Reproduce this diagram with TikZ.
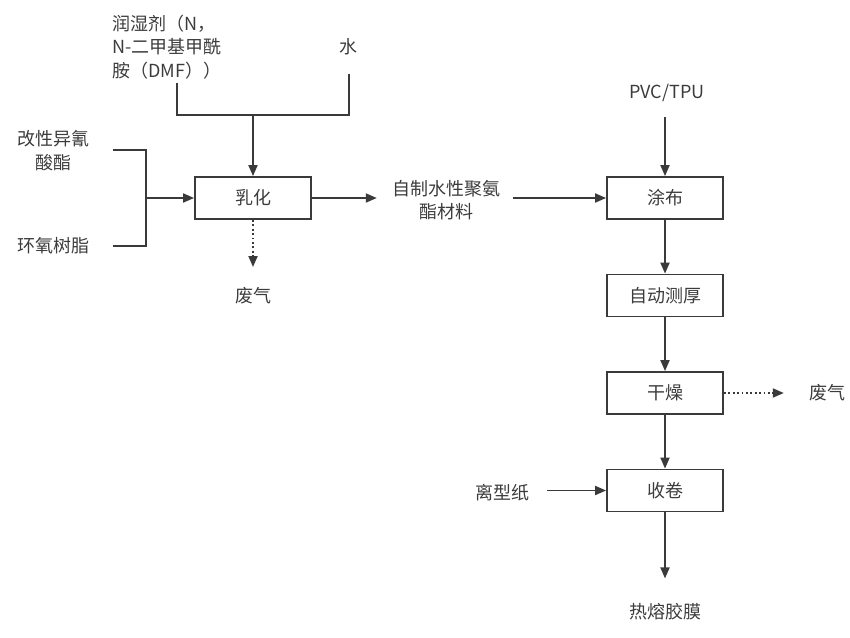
\documentclass[tikz,border=0pt]{standalone}
\usepackage{fontspec}
\setmainfont{Noto Sans CJK SC}
\usetikzlibrary{arrows.meta}
\definecolor{linec}{HTML}{3A3A3A}
\definecolor{txtc}{HTML}{3C3C3C}
\newcommand\fsz{\fontsize{18}{23.5}\selectfont}
\begin{document}
\begin{tikzpicture}[x=1pt,y=-1pt,
  box/.style={draw=linec, line width=1.8pt, minimum width=116pt, minimum height=42pt, inner sep=0pt, text=txtc, font=\fsz},
  lbl/.style={text=txtc, font=\fsz, inner sep=0pt, align=center},
  plain/.style={draw=linec, line width=1.8pt},
  conn/.style={draw=linec, line width=1.8pt, -{Triangle[length=11pt,width=9pt]}},
  dotconn/.style={draw=linec, line width=1.8pt, dash pattern=on 1.8pt off 2.6pt, -{Triangle[length=11pt,width=9pt]}}
]
\useasboundingbox (0,0) rectangle (850,637);
% boxes
\node[box] (emul) at (253,198) {乳化};
\node[box] (coat) at (665,198) {涂布};
\node[box] (thick) at (665,295.5) {自动测厚};
\node[box] (dry) at (665,393) {干燥};
\node[box] (roll) at (665,490.5) {收卷};
% labels
\node[lbl, align=left, anchor=west] (dmf) at (112,47) {润湿剂（N，\\N-二甲基甲酰\\胺（DMF））};
\node[lbl] (water) at (348,47) {水};
\node[lbl] (iso) at (53,150.5) {改性异氰\\酸酯};
\node[lbl] (epoxy) at (53,246) {环氧树脂};
\node[lbl] (waste1) at (253,296) {废气};
\node[lbl] (pu) at (446,200) {自制水性聚氨\\酯材料};
\node[lbl] (pvc) at (667,93) {PVC/TPU};
\node[lbl] (waste2) at (827,393) {废气};
\node[lbl] (paper) at (502,493) {离型纸};
\node[lbl] (film) at (665,612) {热熔胶膜};
% coordinates
\coordinate (d1) at (177,83);
\coordinate (w1) at (349,74);
\coordinate (j1) at (253,115);
\coordinate (b1) at (113,150);
\coordinate (b2) at (113,246);
\coordinate (bj) at (146,198);
\coordinate (wend) at (253,267);
% connectors
\draw[plain] (d1) |- (j1);
\draw[plain] (w1) |- (j1);
\draw[conn] (j1) -- (emul.north);
\draw[plain] (b1) -| (bj);
\draw[plain] (b2) -| (bj);
\draw[conn] (bj) -- (emul.west);
\draw[dotconn] (emul.south) -- (wend);
\draw[conn, shorten >=15pt] (emul.east) -- (emul.east -| pu.west);
\draw[conn, shorten <=13pt] (coat.west -| pu.east) -- (coat.west);
\draw[conn, shorten <=15pt] (pvc.south -| coat.north) -- (coat.north);
\draw[conn] (coat) -- (thick);
\draw[conn] (thick) -- (dry);
\draw[conn] (dry) -- (roll);
\draw[dotconn, shorten >=25pt] (dry.east) -- (dry.east -| waste2.west);
\draw[conn, shorten <=18pt] (roll.west -| paper.east) -- (roll.west);
\draw[conn, shorten >=25pt] (roll.south) -- (roll.south |- film.north);
\end{tikzpicture}
\end{document}
